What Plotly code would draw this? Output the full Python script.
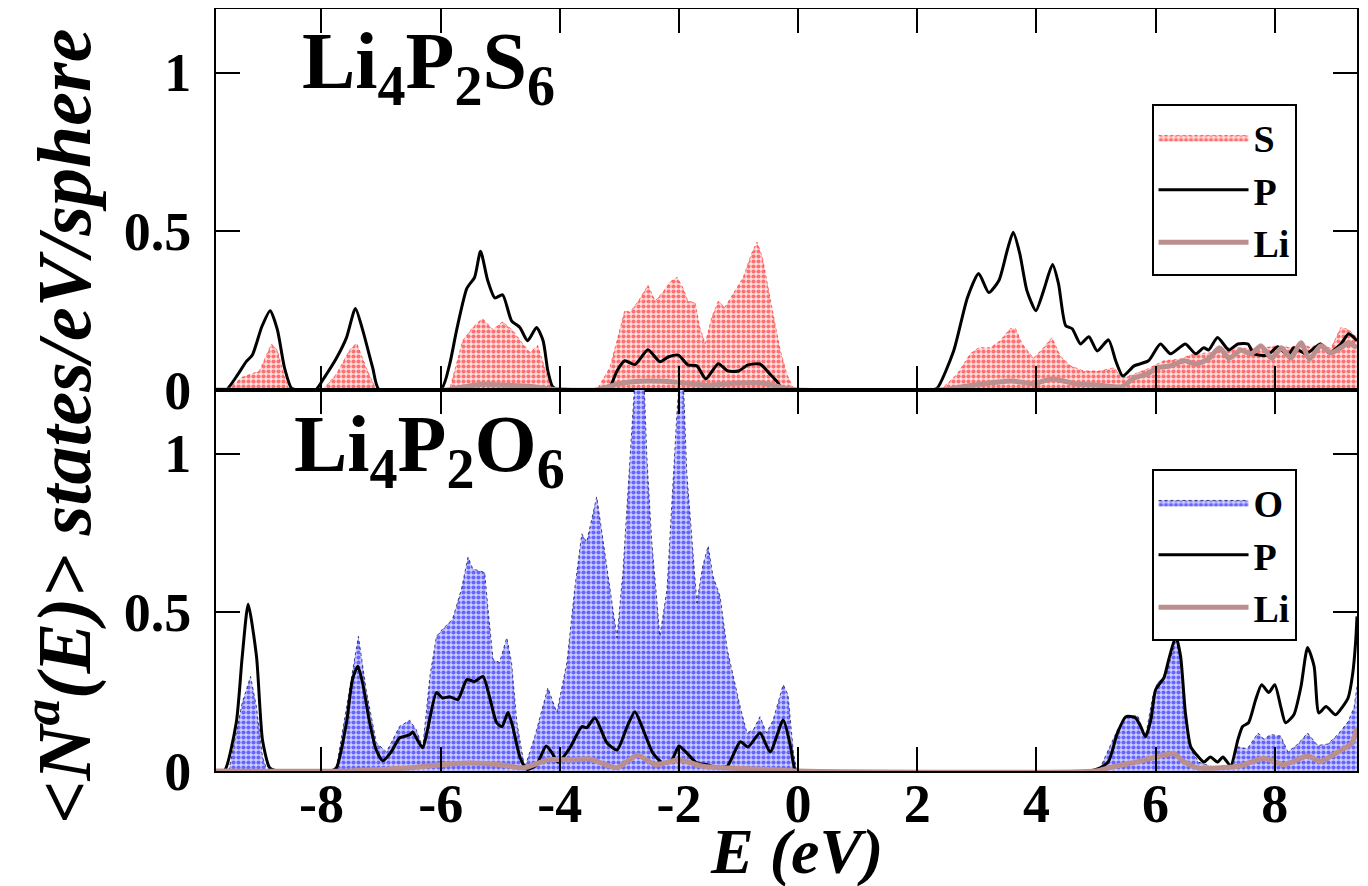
import plotly.graph_objects as go
from plotly.subplots import make_subplots

# ---------------- data ----------------
# Upper panel: Li4P2S6
e_s_top = [-9.77, -9.6, -9.55, -9.33, -9.04, -8.84, -8.74, -8.62, -8.54, -7.98, -7.75, -7.53, -7.41, -7.25, -7.08,
           -5.85, -5.63, -5.46, -5.3, -5.12, -4.96, -4.79, -4.62, -4.5, -4.37, -4.25, -4.14,
           -3.38, -3.16, -3.04, -2.91, -2.82, -2.68, -2.52, -2.4, -2.26, -2.15, -2.03, -1.93, -1.85, -1.73, -1.65,
           -1.56, -1.45, -1.34, -1.23, -1.09, -0.92, -0.78, -0.69, -0.6, -0.5, -0.39, -0.3, -0.19, -0.08, 0.0,
           2.39, 2.67, 2.89, 3.03, 3.23, 3.39, 3.56, 3.65, 3.76, 3.95, 4.12, 4.26, 4.4, 4.57, 4.79, 5.07, 5.3,
           5.45, 5.64, 5.86, 6.14, 6.42, 6.64, 6.92, 7.14, 7.38, 7.6, 7.82, 8.05, 8.27, 8.44, 8.6, 8.77, 8.94,
           9.11, 9.24, 9.38]
dos_s_top = [0, 0, 0.005, 0.04, 0.06, 0.145, 0.125, 0.04, 0.0, 0, 0.05, 0.125, 0.148, 0.07, 0,
             0, 0.155, 0.197, 0.225, 0.19, 0.215, 0.187, 0.145, 0.118, 0.14, 0.07, 0,
             0, 0.07, 0.155, 0.25, 0.245, 0.28, 0.33, 0.28, 0.31, 0.34, 0.355, 0.32, 0.28, 0.275, 0.197,
             0.145, 0.228, 0.28, 0.26, 0.303, 0.355, 0.43, 0.466, 0.418, 0.313, 0.21, 0.125, 0.05, 0.005, 0,
             0, 0.05, 0.114, 0.133, 0.133, 0.155, 0.193, 0.193, 0.145, 0.1, 0.133, 0.165, 0.107, 0.076, 0.06, 0.06, 0.07,
             0.038, 0.05, 0.066, 0.092, 0.098, 0.114, 0.117, 0.133, 0.133, 0.13, 0.133, 0.139, 0.133, 0.149, 0.133, 0.149, 0.13,
             0.197, 0.19, 0.165]

e_p_top = [-9.77, -9.6, -9.4, -9.26, -9.16, -9.0, -8.86, -8.74, -8.62, -8.5, -8.4, -8.1, -7.95, -7.75, -7.58,
           -7.43, -7.31, -7.14, -7.03, -6.0, -5.85, -5.73, -5.56, -5.43, -5.33, -5.21, -5.09, -4.96, -4.81, -4.67,
           -4.54, -4.39, -4.28, -4.2, -4.12, -4.0, -3.3, -3.16, -3.04, -2.91, -2.74, -2.52, -2.32, -2.18, -2.01,
           -1.85, -1.7, -1.55, -1.34, -1.18, -1.0, -0.84, -0.64, -0.47, -0.36, -0.27, -0.2, 2.2, 2.33, 2.61, 2.84,
           3.03, 3.2, 3.37, 3.51, 3.61, 3.72, 3.84, 3.99, 4.12, 4.27, 4.37, 4.49, 4.6, 4.74, 4.88, 5.02, 5.21,
           5.33, 5.45, 5.64, 5.88, 6.08, 6.25, 6.5, 6.67, 6.81, 6.89, 7.04, 7.23, 7.38, 7.55, 7.65, 7.88, 8.05,
           8.22, 8.32, 8.52, 8.77, 8.91, 9.11, 9.24, 9.38]
dos_p_top = [0, 0, 0.05, 0.09, 0.11, 0.2, 0.25, 0.19, 0.07, 0.005, 0, 0, 0.04, 0.10, 0.165,
             0.257, 0.19, 0.07, 0, 0, 0.08, 0.19, 0.32, 0.355, 0.437, 0.345, 0.29, 0.30, 0.218, 0.197,
             0.155, 0.197, 0.155, 0.06, 0.01, 0, 0, 0.01, 0.06, 0.092, 0.08, 0.127, 0.089, 0.104, 0.11,
             0.079, 0.076, 0.035, 0.083, 0.06, 0.06, 0.079, 0.082, 0.05, 0.028, 0.005, 0, 0, 0.005, 0.123, 0.29,
             0.367, 0.307, 0.345, 0.44, 0.497, 0.43, 0.313, 0.25, 0.313, 0.395, 0.335, 0.203, 0.193, 0.145, 0.168, 0.123, 0.158,
             0.092, 0.044, 0.076, 0.092, 0.145, 0.114, 0.145, 0.114, 0.133, 0.126, 0.165, 0.126, 0.145, 0.145, 0.114, 0.11, 0.136,
             0.11, 0.133, 0.114, 0.145, 0.117, 0.145, 0.177, 0.155]

e_li_top = [-9.77, -5.9, -5.6, -5.3, -4.9, -4.5, -4.2, -3.4, -3.0, -2.5, -2.0, -1.55, -1.0, -0.6, -0.2, 0.0,
            2.4, 2.84, 3.6, 3.95, 4.26, 4.65, 5.07, 5.43, 5.64, 5.86, 6.02, 6.25, 6.48, 6.67, 6.89, 7.07, 7.23,
            7.43, 7.6, 7.77, 7.95, 8.11, 8.27, 8.44, 8.58, 8.77, 8.94, 9.11, 9.24, 9.38]
dos_li_top = [0, 0, 0.01, 0.018, 0.015, 0.012, 0.003, 0, 0.02, 0.028, 0.024, 0.015, 0.022, 0.022, 0.005, 0,
              0, 0.013, 0.028, 0.02, 0.035, 0.02, 0.015, 0.01, 0.038, 0.05, 0.07, 0.076, 0.092, 0.082, 0.098, 0.133, 0.1,
              0.126, 0.114, 0.139, 0.1, 0.133, 0.1, 0.149, 0.098, 0.139, 0.117, 0.133, 0.149, 0.133]

# Lower panel: Li4P2O6
e_o_bot = [-9.77, -9.6, -9.55, -9.33, -9.19, -9.09, -8.99, -8.91, -7.8, -7.75, -7.53, -7.38, -7.25, -7.08, -6.91,
           -6.69, -6.52, -6.41, -6.3, -6.18, -6.07, -5.97, -5.8, -5.65, -5.54, -5.46, -5.34, -5.26, -5.21, -5.12,
           -5.01, -4.89, -4.81, -4.72, -4.59, -4.42, -4.2, -4.05, -3.88, -3.75, -3.63, -3.55, -3.38, -3.28, -3.16,
           -3.04, -2.94, -2.86, -2.78, -2.7, -2.6, -2.54, -2.46, -2.32, -2.2, -2.1, -2.03, -1.96, -1.93, -1.87,
           -1.78, -1.7, -1.6, -1.51, -1.43, -1.31, -1.19, -1.09, -0.97, -0.86, -0.75, -0.64, -0.53, -0.42, -0.25,
           -0.17, -0.08, -0.02, 5.0, 5.07, 5.36, 5.5, 5.7, 5.83, 5.95, 6.03, 6.17, 6.25, 6.34, 6.42, 6.5, 6.59,
           6.72, 7.0, 7.26, 7.38, 7.54, 7.72, 7.82, 7.93, 8.1, 8.22, 8.39, 8.55, 8.72, 8.89, 9.06, 9.23, 9.33, 9.38]
dos_o_bot = [0, 0, 0.005, 0.215, 0.298, 0.2, 0.044, 0, 0, 0.01, 0.256, 0.424, 0.256, 0.089, 0.06,
             0.14, 0.16, 0.13, 0.075, 0.298, 0.424, 0.446, 0.478, 0.573, 0.674, 0.636, 0.63, 0.625, 0.52, 0.351,
             0.342, 0.42, 0.342, 0.152, 0.01, 0.108, 0.262, 0.184, 0.342, 0.573, 0.747, 0.72, 0.864, 0.73, 0.573,
             0.42, 0.627, 0.89, 1.15, 1.35, 1.3, 0.994, 0.73, 0.424, 0.573, 0.89, 1.14, 1.3, 1.25, 0.943,
             0.73, 0.53, 0.646, 0.709, 0.614, 0.55, 0.383, 0.298, 0.2, 0.12, 0.13, 0.171, 0.12, 0.16, 0.272,
             0.24, 0.06, 0, 0, 0.01, 0.13, 0.171, 0.174, 0.108, 0.234, 0.278, 0.298, 0.351, 0.415, 0.351, 0.183, 0.07,
             0.028, 0.01, 0.01, 0.076, 0.07, 0.12, 0.1, 0.115, 0.11, 0.06, 0.085, 0.12, 0.08, 0.085, 0.115, 0.155, 0.2, 0.266]

e_p_bot = [-9.77, -9.63, -9.43, -9.33, -9.23, -9.09, -8.99, -8.87, -8.75, -7.85, -7.75, -7.58, -7.48, -7.39, -7.31,
           -7.19, -7.08, -6.97, -6.83, -6.69, -6.52, -6.47, -6.39, -6.3, -6.22, -6.07, -5.97, -5.85, -5.71, -5.56,
           -5.43, -5.29, -5.18, -5.06, -4.97, -4.87, -4.79, -4.67, -4.55, -4.39, -4.23, -4.13, -4.03, -3.83, -3.63,
           -3.55, -3.41, -3.21, -3.04, -2.87, -2.74, -2.6, -2.44, -2.27, -2.12, -2.0, -1.87, -1.7, -1.53, -1.36,
           -1.19, -0.97, -0.84, -0.64, -0.47, -0.25, -0.13, -0.05, 0.05, 4.9, 5.07, 5.21, 5.36, 5.5, 5.66, 5.75,
           5.83, 5.92, 6.0, 6.14, 6.22, 6.34, 6.42, 6.5, 6.59, 6.72, 6.81, 6.92, 7.04, 7.13, 7.26, 7.38, 7.46,
           7.56, 7.68, 7.78, 7.9, 8.0, 8.1, 8.18, 8.32, 8.44, 8.55, 8.66, 8.74, 8.86, 9.02, 9.14, 9.23, 9.31,
           9.36, 9.38]
dos_p_bot = [0, 0, 0.152, 0.36, 0.525, 0.36, 0.098, 0.01, 0, 0, 0.01, 0.152, 0.288, 0.33, 0.278,
             0.152, 0.066, 0.032, 0.06, 0.104, 0.114, 0.123, 0.098, 0.073, 0.13, 0.247, 0.23, 0.234, 0.225, 0.288,
             0.282, 0.298, 0.234, 0.152, 0.14, 0.184, 0.14, 0.044, 0.005, 0.02, 0.079, 0.057, 0.028, 0.073, 0.14,
             0.136, 0.168, 0.089, 0.066, 0.14, 0.187, 0.13, 0.057, 0.025, 0.035, 0.079, 0.057, 0.025, 0.02, 0.01,
             0.015, 0.092, 0.076, 0.12, 0.06, 0.161, 0.08, 0.005, 0, 0, 0.01, 0.03, 0.12, 0.171, 0.168, 0.14,
             0.108, 0.161, 0.256, 0.294, 0.351, 0.424, 0.36, 0.183, 0.076, 0.044, 0.028, 0.044, 0.028, 0.044, 0.016, 0.098, 0.14,
             0.152, 0.225, 0.272, 0.247, 0.272, 0.203, 0.152, 0.177, 0.266, 0.389, 0.33, 0.183, 0.203, 0.177, 0.203, 0.23, 0.31,
             0.415, 0.487]

e_li_bot = [-9.77, -7.5, -7.0, -6.5, -6.0, -5.5, -5.0, -4.6, -4.2, -3.8, -3.5, -3.04, -2.7, -2.4, -2.0, -1.6,
            -1.0, -0.5, 0.0, 5.0, 5.21, 5.6, 5.92, 6.3, 6.47, 6.7, 7.38, 7.82, 8.15, 8.55, 8.77, 9.06, 9.29, 9.38]
dos_li_bot = [0, 0, 0.005, 0.01, 0.02, 0.025, 0.02, 0.01, 0.035, 0.035, 0.038, 0.01, 0.05, 0.02, 0.035, 0.015,
              0.008, 0.005, 0, 0, 0.01, 0.025, 0.04, 0.055, 0.03, 0.01, 0.015, 0.04, 0.02, 0.047, 0.03, 0.06, 0.087, 0.136]

x_tick_vals = [-8, -6, -4, -2, 0, 2, 4, 6, 8]
x_tick_text = ["-8", "-6", "-4", "-2", "0", "2", "4", "6", "8"]
y_tick_vals = [0, 0.5, 1]
y_tick_text = ["0", "0.5", "1"]

# ---------------- figure ----------------
SERIF = "Liberation Serif"
fig = make_subplots(rows=2, cols=1, shared_xaxes=True, vertical_spacing=0)

LI_COLOR = "rgb(188,143,143)"

# top panel
fig.add_trace(go.Scatter(x=e_s_top, y=dos_s_top, name="S", mode="lines", fill="tozeroy",
                         line=dict(color="rgba(255,0,0,0.5)", width=1, dash="dot"),
                         fillcolor="rgba(255,255,255,0)",
                         fillpattern=dict(shape=".", fgcolor="red", bgcolor="rgb(255,225,225)", size=5, solidity=0.55),
                         legend="legend"), row=1, col=1)
fig.add_trace(go.Scatter(x=e_p_top, y=dos_p_top, name="P", mode="lines",
                         line=dict(color="black", width=3, shape="spline", smoothing=0.6),
                         legend="legend"), row=1, col=1)
fig.add_trace(go.Scatter(x=e_li_top, y=dos_li_top, name="Li", mode="lines",
                         line=dict(color=LI_COLOR, width=5, shape="spline", smoothing=0.6),
                         legend="legend"), row=1, col=1)

# bottom panel
fig.add_trace(go.Scatter(x=e_o_bot, y=dos_o_bot, name="O", mode="lines", fill="tozeroy",
                         line=dict(color="rgba(0,0,60,0.7)", width=1, dash="dot"),
                         fillcolor="rgba(255,255,255,0)",
                         fillpattern=dict(shape=".", fgcolor="blue", bgcolor="rgb(205,205,255)", size=5, solidity=0.55),
                         legend="legend2"), row=2, col=1)
fig.add_trace(go.Scatter(x=e_p_bot, y=dos_p_bot, name="P", mode="lines",
                         line=dict(color="black", width=3, shape="spline", smoothing=0.6),
                         legend="legend2"), row=2, col=1)
fig.add_trace(go.Scatter(x=e_li_bot, y=dos_li_bot, name="Li", mode="lines",
                         line=dict(color=LI_COLOR, width=5, shape="spline", smoothing=0.6),
                         legend="legend2"), row=2, col=1)

axis_common = dict(showline=True, linecolor="black", linewidth=2, mirror="ticks",
                   ticks="inside", ticklen=24, tickwidth=2, tickcolor="black",
                   showgrid=False, zeroline=False, automargin=False)
tickfont = dict(family=SERIF, size=54, color="black", weight="bold")

fig.update_xaxes(range=[-9.77, 9.38], tickvals=x_tick_vals, ticktext=x_tick_text, **axis_common)
fig.update_xaxes(showticklabels=False, row=1, col=1)
fig.update_xaxes(showticklabels=True, tickfont=tickfont, ticklabelstandoff=-16, row=2, col=1)
fig.update_yaxes(range=[0, 1.2], tickvals=y_tick_vals, ticktext=y_tick_text, tickfont=tickfont,
                 ticklabelstandoff=12, **axis_common)

legend_common = dict(xanchor="right", yanchor="top", bordercolor="black", borderwidth=2, bgcolor="white",
                     font=dict(family=SERIF, size=38, color="black", weight="bold"),
                     tracegroupgap=0, itemwidth=90)
fig.update_layout(
    legend=dict(x=0.947, y=0.875, **legend_common),
    legend2=dict(x=0.947, y=0.396, **legend_common),
)

annos = [
    dict(text="Li<sub>4</sub>P<sub>2</sub>S<sub>6</sub>", xref="paper", yref="paper",
         x=(300 - 216) / 1141, y=0.924, xanchor="left", yanchor="middle", showarrow=False,
         font=dict(family=SERIF, size=80, color="black", weight="bold")),
    dict(text="Li<sub>4</sub>P<sub>2</sub>O<sub>6</sub>", xref="paper", yref="paper",
         x=(292 - 216) / 1141, y=0.421, xanchor="left", yanchor="middle", showarrow=False,
         font=dict(family=SERIF, size=80, color="black", weight="bold")),
    dict(text="&lt;N<sup>a</sup>(E)&gt; states/eV/sphere", xref="paper", yref="paper",
         x=-0.1375, y=0.452, xanchor="center", yanchor="middle", textangle=-90, showarrow=False,
         font=dict(family=SERIF, size=76, color="black", weight="bold", style="italic")),
    dict(text="E (eV)", xref="paper", yref="paper",
         x=(797 - 216) / 1141, y=-0.106, xanchor="center", yanchor="middle", showarrow=False,
         font=dict(family=SERIF, size=64, color="black", weight="bold", style="italic")),
]

# The page body adds an 8 px margin, so the figure is 8 px smaller on each axis
fig.update_layout(
    width=1360, height=878,
    margin=dict(l=208, r=11, t=1, b=115),
    paper_bgcolor="white", plot_bgcolor="white",
    annotations=annos,
    showlegend=True,
)

fig.write_html("out.html")
